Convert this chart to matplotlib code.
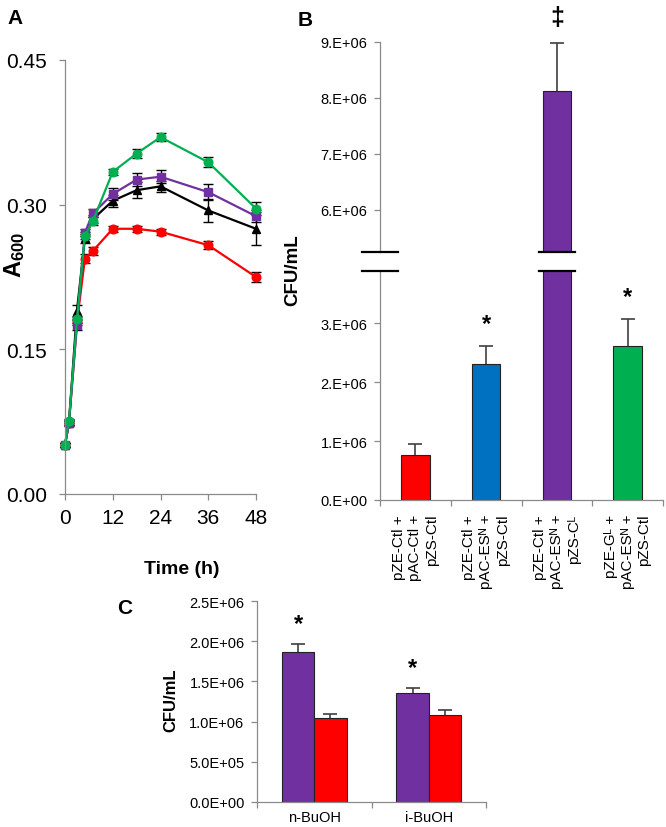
"""
Three-panel growth / CFU figure
Output: out.png
"""

import numpy as np
import matplotlib.pyplot as plt

plt.rcParams['font.family'] = ['Liberation Sans', 'DejaVu Sans']
plt.rcParams['mathtext.fontset'] = 'custom'
plt.rcParams['mathtext.rm'] = 'Liberation Sans'
plt.rcParams['mathtext.bf'] = 'Liberation Sans:bold'

AXIS_GRAY = '#8a8a8a'

# Panel A: growth curves (A600 vs time)
hours = [0, 1, 3, 5, 7, 12, 18, 24, 36, 48]
red_a = [0.051, 0.074, 0.178, 0.244, 0.252, 0.275, 0.275, 0.272, 0.258, 0.225]
red_err = [0.002, 0.002, 0.003, 0.005, 0.004, 0.003, 0.003, 0.003, 0.004, 0.005]
black_a = [0.051, 0.074, 0.190, 0.265, 0.285, 0.304, 0.315, 0.319, 0.294, 0.275]
black_err = [0.002, 0.003, 0.006, 0.005, 0.004, 0.006, 0.008, 0.006, 0.012, 0.017]
purple_a = [0.051, 0.074, 0.175, 0.271, 0.291, 0.311, 0.326, 0.329, 0.313, 0.288]
purple_err = [0.002, 0.002, 0.005, 0.004, 0.004, 0.006, 0.007, 0.007, 0.008, 0.006]
green_a = [0.051, 0.076, 0.181, 0.268, 0.283, 0.334, 0.353, 0.370, 0.344, 0.296]
green_err = [0.002, 0.002, 0.004, 0.004, 0.004, 0.003, 0.005, 0.004, 0.005, 0.007]
a_xticks = [0, 12, 24, 36, 48]
a_yticks = [0.00, 0.15, 0.30, 0.45]

# Panel B: CFU/mL per plasmid combination (broken axis)
b_labels = [
    "pZE-Ctl +\npAC-Ctl +\npZS-Ctl",
    "pZE-Ctl +\npAC-ES\u1d3a +\npZS-Ctl",
    "pZE-Ctl +\npAC-ES\u1d3a +\npZS-C\u1d38",
    "pZE-G\u1d38 +\npAC-ES\u1d3a +\npZS-Ctl",
]
b_values = [0.76e6, 2.31e6, 8.13e6, 2.62e6]
b_err = [0.19e6, 0.31e6, 0.85e6, 0.46e6]
b_colors = ['#FF0000', '#0070C0', '#7030A0', '#00B050']
b_marks = ['', '*', '\u2021', '*']
b_low_ticks = [0, 1e6, 2e6, 3e6]
b_low_labels = ['0.E+00', '1.E+06', '2.E+06', '3.E+06']
b_high_ticks = [6e6, 7e6, 8e6, 9e6]
b_high_labels = ['6.E+06', '7.E+06', '8.E+06', '9.E+06']

# Panel C: CFU/mL under butanol stress
c_cats = ['n-BuOH', 'i-BuOH']
c_purple = [1.86e6, 1.356e6]
c_purple_err = [0.11e6, 0.065e6]
c_red = [1.04e6, 1.087e6]
c_red_err = [0.06e6, 0.063e6]
c_marks = ['*', '*']
c_yticks = [0, 0.5e6, 1.0e6, 1.5e6, 2.0e6, 2.5e6]
c_ylabels = ['0.0E+00', '5.0E+05', '1.0E+06', '1.5E+06', '2.0E+06', '2.5E+06']

W, H = 666, 828
fig = plt.figure(figsize=(W / 100, H / 100), dpi=100)


def px_axes(x0, y0, x1, y1):
    # axes box given in pixel coordinates (top-left origin)
    return fig.add_axes([x0 / W, 1 - y1 / H, (x1 - x0) / W, (y1 - y0) / H])


def style_axes(ax, size, pad):
    for s in ['top', 'right']:
        ax.spines[s].set_visible(False)
    for s in ['left', 'bottom']:
        ax.spines[s].set_color(AXIS_GRAY)
        ax.spines[s].set_linewidth(0.9)
    ax.tick_params(direction='out', length=4, width=0.9, color=AXIS_GRAY,
                   labelsize=size, pad=pad)


def plus_errorbar(ax, x, y, err):
    # upper-only error bars without a cap at the bar top
    _, caps, _ = ax.errorbar(x, y, yerr=[np.zeros(len(err)), err], fmt='none',
                             ecolor='#404040', elinewidth=1.2, capsize=5,
                             capthick=1.2, zorder=3)
    caps[0].set_visible(False)


# ---------------- Panel A ----------------
axA = px_axes(65, 61, 256, 495)
series = [
    (red_a, red_err, '#FF0000', 'o'),
    (black_a, black_err, '#000000', '^'),
    (purple_a, purple_err, '#7030A0', 's'),
    (green_a, green_err, '#00B050', 'o'),
]
for vals, err, col, mk in series:
    axA.errorbar(hours, vals, yerr=err, color=col, marker=mk, markersize=6.2,
                 linewidth=1.6, ecolor='black', elinewidth=1.0, capsize=3.5,
                 capthick=1.0, clip_on=False)
axA.set_xlim(0, 48)
axA.set_ylim(0, 0.45)
axA.set_xticks(a_xticks)
axA.set_yticks(a_yticks)
axA.set_yticklabels([f"{v:.2f}" for v in a_yticks])
style_axes(axA, 15, 9)
axA.tick_params(axis='x', pad=6)
fig.text(15 / W, 1 - 255 / H, r"$\mathbf{A_{600}}$", rotation=90,
         ha='center', va='center', fontsize=17)
fig.text(182 / W, 1 - 569 / H, "Time (h)", fontweight='bold', fontsize=14,
         ha='center', va='center')

# ---------------- Panel B ----------------
axBh = px_axes(380, 43, 663, 253)
axBl = px_axes(380, 272, 663, 501)
bx = np.arange(len(b_values))
for ax in (axBh, axBl):
    ax.bar(bx, b_values, width=0.4, color=b_colors, edgecolor='#222222',
           linewidth=0.8, zorder=2)
    plus_errorbar(ax, bx, b_values, b_err)
    ax.set_xlim(-0.5, 3.5)
    style_axes(ax, 10.5, 5)

axBh.set_ylim(5.25e6, 9e6)
axBh.set_yticks(b_high_ticks)
axBh.set_yticklabels(b_high_labels)
axBh.spines['bottom'].set_visible(False)
axBh.set_xticks([])

axBl.set_ylim(0, 3.89e6)
axBl.set_yticks(b_low_ticks)
axBl.set_yticklabels(b_low_labels)
axBl.set_xticks(np.arange(-0.5, 4, 1.0))
axBl.set_xticklabels([])
for i, lab in enumerate(b_labels):
    axBl.annotate(lab, xy=(i, 0), xycoords=('data', 'axes fraction'),
                  xytext=(0, -10), textcoords='offset points', rotation=90,
                  ha='center', va='top', multialignment='right', fontsize=11,
                  linespacing=1.25)

# significance marks
for i, m in enumerate(b_marks):
    if not m:
        continue
    top = b_values[i] + b_err[i]
    ax = axBh if top > 5.25e6 else axBl
    ax.annotate(m, xy=(i, top), xytext=(0, 8 if m == '*' else 10),
                textcoords='offset points', ha='center', va='bottom',
                fontsize=17 if m == '*' else 18, fontweight='bold',
                annotation_clip=False)

# axis break marks (at y axis and on the tall bar)
for xc in (-0.5, 2):
    axBh.plot([xc - 0.25, xc + 0.25], [0, 0], color='black', lw=1.6,
              transform=axBh.get_xaxis_transform(), clip_on=False, zorder=5)
    axBl.plot([xc - 0.25, xc + 0.25], [1, 1], color='black', lw=1.6,
              transform=axBl.get_xaxis_transform(), clip_on=False, zorder=5)

fig.text(293 / W, 1 - 270 / H, "CFU/mL", rotation=90, fontweight='bold',
         fontsize=13.5, ha='center', va='center')

# ---------------- Panel C ----------------
axC = px_axes(257, 602, 486, 803)
cx = np.arange(len(c_cats))
bw = 0.283
axC.bar(cx - bw / 2, c_purple, width=bw, color='#7030A0', edgecolor='#222222',
        linewidth=0.8, zorder=2)
axC.bar(cx + bw / 2, c_red, width=bw, color='#FF0000', edgecolor='#222222',
        linewidth=0.8, zorder=2)
plus_errorbar(axC, cx - bw / 2, c_purple, c_purple_err)
plus_errorbar(axC, cx + bw / 2, c_red, c_red_err)
for i, m in enumerate(c_marks):
    axC.annotate(m, xy=(i - bw / 2, c_purple[i] + c_purple_err[i]),
                 xytext=(0, 6), textcoords='offset points', ha='center',
                 va='bottom', fontsize=17, fontweight='bold')
axC.set_xlim(-0.5, 1.5)
axC.set_ylim(0, 2.5e6)
axC.set_yticks(c_yticks)
axC.set_yticklabels(c_ylabels)
style_axes(axC, 10.5, 5)
axC.set_xticks(cx)
axC.set_xticklabels(c_cats)
axC.tick_params(axis='x', length=0, pad=6)
axC.set_xticks([-0.5, 0.5, 1.5], minor=True)
axC.tick_params(axis='x', which='minor', direction='out', length=4, width=0.9,
                color=AXIS_GRAY)
fig.text(171 / W, 1 - 700 / H, "CFU/mL", rotation=90, fontweight='bold',
         fontsize=12, ha='center', va='center')

# panel letters
fig.text(15 / W, 1 - 19 / H, "A", fontweight='bold', fontsize=15,
         ha='center', va='center')
fig.text(305 / W, 1 - 20 / H, "B", fontweight='bold', fontsize=15,
         ha='center', va='center')
fig.text(125 / W, 1 - 609 / H, "C", fontweight='bold', fontsize=15,
         ha='center', va='center')

fig.savefig("out.png", dpi=100)
